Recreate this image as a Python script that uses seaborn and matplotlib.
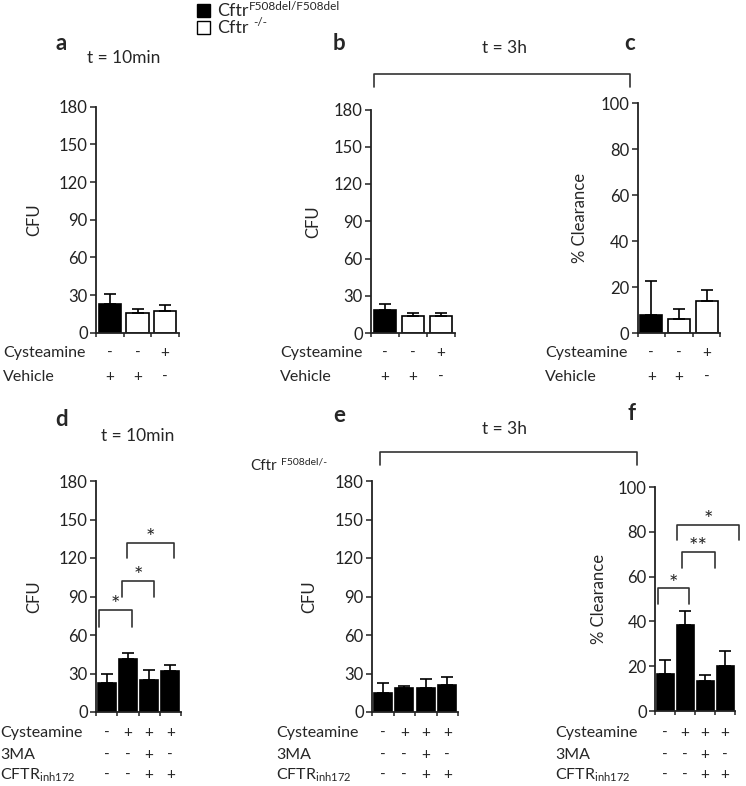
import numpy as np
import pandas as pd
import matplotlib
matplotlib.use('Agg')
import matplotlib.pyplot as plt
import matplotlib.transforms as mtransforms
import seaborn as sns

sns.set_style('ticks')
plt.rcParams['font.family'] = ['Lato', 'DejaVu Sans']
plt.rcParams['mathtext.default'] = 'regular'

# 数据
top_genotype = ['F508del/F508del', '-/-', '-/-']
top_cysteamine = ['-', '-', '+']
top_vehicle = ['+', '+', '-']

bot_cysteamine = ['-', '+', '+', '+']
bot_3ma = ['-', '-', '+', '-']
bot_inh172 = ['-', '-', '+', '+']

a_cfu = [22.5, 15.5, 17.5]
a_sem = [8.0, 3.5, 4.8]
b_cfu = [18.4, 13.5, 13.5]
b_sem = [4.6, 3.0, 3.0]
c_clear = [8.0, 6.0, 13.8]
c_sem = [14.5, 4.3, 4.9]

d_cfu = [22.3, 41.3, 25.0, 32.0]
d_sem = [7.3, 4.4, 7.7, 4.6]
e_cfu = [15.0, 19.0, 19.0, 21.0]
e_sem = [7.3, 1.3, 7.0, 6.5]
f_clear = [16.4, 38.2, 13.5, 20.2]
f_sem = [6.4, 6.4, 2.4, 6.7]

# 显著性标注: (左, 右, 顶部, 左脚, 右脚, 标记)
d_sig = [(-0.36, 1.18, 79.5, 66.5, 66.5, '*'),
         (0.72, 2.24, 102.3, 90, 90, '*'),
         (0.94, 3.18, 132, 120, 120, '*')]
f_sig = [(-0.34, 1.2, 54.8, 47.8, 47.8, '*'),
         (0.86, 2.5, 71.1, 64, 64, '**'),
         (0.6, 3.7, 83, 76.3, 76.3, '*')]

geno_colors = {'F508del/F508del': 'black', '-/-': 'white'}

W, H = 746, 786
fig = plt.figure(figsize=(W / 100, H / 100), dpi=100)
renderer = fig.canvas.get_renderer()


def rect(l, r, top, bottom):
    return [l / W, 1 - bottom / H, (r - l) / W, (bottom - top) / H]


def draw_panel(box, values, errors, colors, ymax, ystep, ylabel, label_x, width):
    ax = fig.add_axes(rect(*box))
    cats = [str(i) for i in range(len(values))]
    df = pd.DataFrame({'cond': cats, 'val': values})
    sns.barplot(data=df, x='cond', y='val', hue='cond',
                palette=dict(zip(cats, colors)), saturation=1,
                edgecolor='black', linewidth=1.2, width=width,
                legend=False, ax=ax)
    n = len(values)
    ax.errorbar(np.arange(n), values, yerr=[np.zeros(n), errors], fmt='none',
                ecolor='black', elinewidth=1.2, capsize=4, capthick=1.2)
    ax.set_xlim(-0.5, n - 0.5)
    ax.set_ylim(0, ymax)
    ax.set_yticks(np.arange(0, ymax + 1, ystep))
    ax.set_xticks(np.arange(-0.5, n, 1.0))
    ax.set_xticklabels([])
    ax.tick_params(axis='y', labelsize=12, length=4, width=1.1, pad=2, colors='#222222')
    ax.tick_params(axis='x', length=3, width=1.1, colors='#222222')
    for s in ['left', 'bottom']:
        ax.spines[s].set_linewidth(1.3)
        ax.spines[s].set_color('#222222')
    sns.despine(ax=ax)
    ax.set_xlabel('')
    ax.set_ylabel(ylabel, fontsize=12)
    ax.yaxis.set_label_coords((label_x - box[0]) / (box[1] - box[0]), 0.5)
    return ax


def sign_rows(ax, rows, ys, label_x):
    trans = mtransforms.blended_transform_factory(ax.transData, fig.transFigure)
    for (name, signs), y in zip(rows, ys):
        fig.text(label_x / W, 1 - y / H, name, ha='left', va='center', fontsize=11.5)
        for i, s in enumerate(signs):
            ax.text(i, 1 - y / H, s, transform=trans, ha='center', va='center', fontsize=11)


def sig_brackets(ax, sig):
    for x1, x2, top, l1, l2, mark in sig:
        ax.plot([x1, x1, x2, x2], [l1, top, top, l2], color='#333333', lw=1.2, clip_on=False)
        ax.annotate(mark, xy=((x1 + x2) / 2, top), xytext=(0, -1), textcoords='offset points',
                    ha='center', va='baseline', fontsize=16)


def sup_text(x, y, base, sup, size, sup_size, gap, rise):
    t = fig.text(x / W, 1 - y / H, base, fontsize=size, ha='left', va='center')
    bb = t.get_window_extent(renderer)
    fig.text((bb.x1 + gap) / W, 1 - (y - rise) / H, sup, fontsize=sup_size, ha='left', va='center')


top_colors = [geno_colors[g] for g in top_genotype]

ax_a = draw_panel((96, 179, 106.7, 332.7), a_cfu, a_sem, top_colors, 180, 30, 'CFU', 42, 0.8)
ax_b = draw_panel((371, 455, 109.5, 333), b_cfu, b_sem, top_colors, 180, 30, 'CFU', 321, 0.8)
ax_c = draw_panel((637.5, 720.5, 103.3, 333), c_clear, c_sem, top_colors, 100, 20, '% Clearance', 588, 0.8)

bot_colors = ['black'] * 4
ax_d = draw_panel((96, 181, 481, 712), d_cfu, d_sem, bot_colors, 180, 30, 'CFU', 42, 0.85)
ax_e = draw_panel((372, 458, 481, 712), e_cfu, e_sem, bot_colors, 180, 30, 'CFU', 317, 0.85)
ax_f = draw_panel((655, 735, 487, 711), f_clear, f_sem, bot_colors, 100, 20, '% Clearance', 607, 0.85)

top_rows = [('Cysteamine', top_cysteamine), ('Vehicle', top_vehicle)]
sign_rows(ax_a, top_rows, [353, 377], 3)
sign_rows(ax_b, top_rows, [353, 377], 280)
sign_rows(ax_c, top_rows, [353, 377], 545)

bot_rows = [('Cysteamine', bot_cysteamine), ('3MA', bot_3ma),
            ('CFTR$_{inh172}$', bot_inh172)]
sign_rows(ax_d, bot_rows, [733, 755, 775], 0)
sign_rows(ax_e, bot_rows, [733, 755, 775], 276)
sign_rows(ax_f, bot_rows, [733, 755, 775], 555)

sig_brackets(ax_d, d_sig)
sig_brackets(ax_f, f_sig)

# 面板字母和时间
for letter, x, y in [('a', 61, 44), ('b', 339, 44), ('c', 630, 44),
                     ('d', 62, 420), ('e', 339, 416), ('f', 632, 413)]:
    fig.text(x / W, 1 - y / H, letter, fontsize=16, fontweight='bold', ha='center', va='center')

fig.text(124 / W, 1 - 58 / H, 't = 10min', fontsize=12.5, ha='center', va='center')
fig.text(138 / W, 1 - 436 / H, 't = 10min', fontsize=12.5, ha='center', va='center')
fig.text(505 / W, 1 - 48 / H, 't = 3h', fontsize=12.5, ha='center', va='center')
fig.text(505 / W, 1 - 429 / H, 't = 3h', fontsize=12.5, ha='center', va='center')

# 大括号 (跨 b/c 与 e/f)
for x1, x2, yb, yl in [(374, 630, 74, 87), (380, 636.5, 451.5, 465)]:
    fig.add_artist(plt.Line2D([x1 / W, x1 / W, x2 / W, x2 / W],
                              [1 - yl / H, 1 - yb / H, 1 - yb / H, 1 - yl / H],
                              color='#333333', lw=1.2))

sup_text(250, 466, 'Cftr', 'F508del/-', 11, 7.5, 4, 4)

# 图例
fig.add_artist(plt.Rectangle((197 / W, 1 - 17 / H), 13 / W, 13 / H, facecolor='black',
                             edgecolor='black', lw=1))
fig.add_artist(plt.Rectangle((197 / W, 1 - 34 / H), 13 / W, 13 / H, facecolor='white',
                             edgecolor='black', lw=1))
sup_text(217, 11, 'Cftr', 'F508del/F508del', 13, 8.5, 0.5, 5)
sup_text(217, 28, 'Cftr', '-/-', 13, 8.5, 5, 5)

fig.savefig('out.png', dpi=100)
